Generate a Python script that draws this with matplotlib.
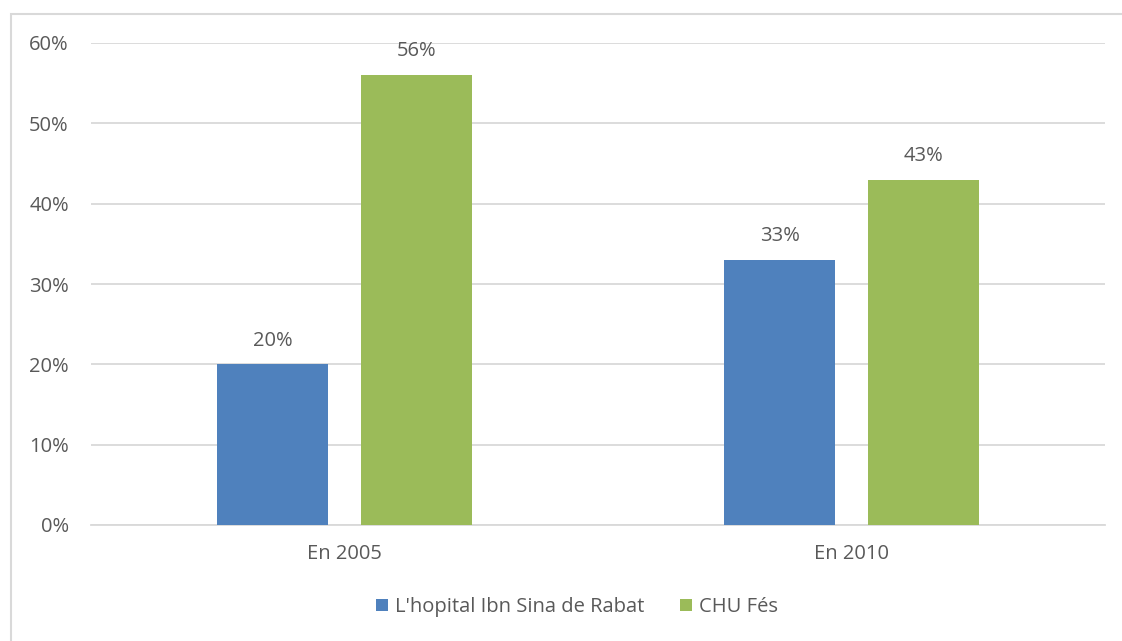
import numpy as np
import matplotlib.pyplot as plt
from matplotlib.patches import Rectangle

plt.rcParams['font.family'] = ['Open Sans', 'DejaVu Sans']

# Data
categories = ['En 2005', 'En 2010']
series_names = ["L'hopital Ibn Sina de Rabat", 'CHU Fés']
rabat = [20, 33]
fes = [56, 43]
yticks = [0, 10, 20, 30, 40, 50, 60]

blue = '#4F81BD'
green = '#9BBB59'
grid_col = '#D9D9D9'
text_col = '#595959'

fig = plt.figure(figsize=(11.22, 6.41), dpi=100)
ax = fig.add_axes([91 / 1122, 1 - 525 / 641, (1105 - 91) / 1122, (525 - 43) / 641])

x = np.arange(len(categories))
width = 0.219
offset = 0.142

bars1 = ax.bar(x - offset, rabat, width, color=blue, label=series_names[0], zorder=3)
bars2 = ax.bar(x + offset, fes, width, color=green, label=series_names[1], zorder=3)

# value labels above each bar
for bars, vals in ((bars1, rabat), (bars2, fes)):
    for b, v in zip(bars, vals):
        ax.annotate(f'{v}%', (b.get_x() + b.get_width() / 2, v),
                    xytext=(0, 13.5), textcoords='offset points',
                    ha='center', va='baseline', fontsize=14.5, color=text_col)

ax.set_xlim(-0.5, 1.5)
ax.set_ylim(0, 60)
ax.set_yticks(yticks)
ax.set_yticklabels([f'{t}%' for t in yticks])
ax.set_xticks(x)
ax.set_xticklabels(categories)

ax.grid(axis='y', color=grid_col, linewidth=1.3, zorder=0)
for side in ('top', 'right', 'left'):
    ax.spines[side].set_visible(False)
ax.spines['bottom'].set_color(grid_col)
ax.spines['bottom'].set_linewidth(1.3)

ax.tick_params(axis='y', length=0, pad=16, labelsize=14.5, labelcolor=text_col)
ax.tick_params(axis='x', length=0, pad=14, labelsize=14.5, labelcolor=text_col)

fig.legend(loc='center', bbox_to_anchor=(577 / 1122, 1 - 607 / 641), ncol=2,
           frameon=False, fontsize=14.5, labelcolor=text_col,
           handlelength=0.6, handleheight=0.6, handletextpad=0.35,
           columnspacing=1.8)

# chart frame
fig.patches.append(Rectangle((11 / 1122, -0.1), 1.2, 1 - 14 / 641 + 0.1,
                             transform=fig.transFigure, fill=False,
                             edgecolor=grid_col, linewidth=1.5))

fig.savefig('out.png', dpi=100)
